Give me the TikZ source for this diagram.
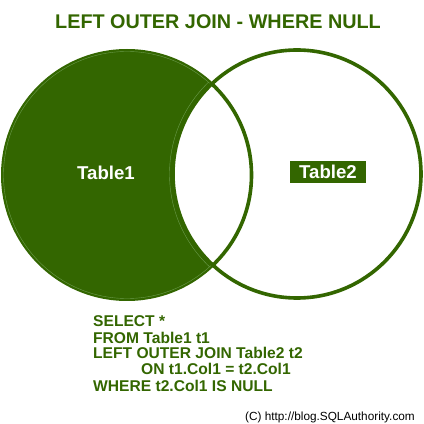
\documentclass[tikz,border=0pt]{standalone}
\usepackage{fontspec}
\setmainfont{Liberation Sans}

\definecolor{joingreen}{HTML}{336600}
\definecolor{rimgreen}{HTML}{6A9A4A}

\begin{document}
\begin{tikzpicture}[x=1pt, y=1pt,
    tablabel/.style={text=white, font=\bfseries\fontsize{18.6}{20}\selectfont,
        inner sep=0pt, text height=13.3pt, text depth=0pt},
    sqlline/.style={text=joingreen, font=\bfseries\fontsize{15.6}{16}\selectfont,
        inner sep=0pt, anchor=base west}]

        \useasboundingbox (0,0) rectangle (424,424);

        \coordinate (c1) at (127,249);
        \coordinate (c2) at (297,250);
        \pgfmathsetmacro{\R}{126}
        \pgfmathsetmacro{\S}{125}

        % 1. 左の円（Table1）の塗りつぶし
        \fill[joingreen] (c1) circle (\R);
        \draw[rimgreen, line width=0.4pt] (c1) circle (\R-2.5);
        \begin{scope}
            \clip (c1) circle (\R-2.5);
            \draw[rimgreen, line width=0.4pt] (c2) circle (\S+2.5);
        \end{scope}

        % 2. 右の円（Table2）は白抜き＋輪郭
        \fill[white] (c2) circle (\S);
        \draw[joingreen, line width=3.6pt] (c2) circle (\S-1);
        % 重なり部分の左円の輪郭
        \begin{scope}
            \clip (c2) circle (\S);
            \draw[joingreen, line width=3.6pt] (c1) circle (\R-1.5);
        \end{scope}

        % 3. ラベル
        \node[font=\bfseries\fontsize{19.8}{22}\selectfont, text=joingreen,
            inner sep=0pt, anchor=base] (title) at (218,395)
            {LEFT OUTER JOIN - WHERE NULL};
        \node[tablabel] (tab1) at (106,251) {Table1};
        \node[tablabel, fill=joingreen, minimum width=76pt, minimum height=22pt]
            (tab2) at (328,252) {Table2};

        % SQL文（1行ずつ）
        \foreach \txt [count=\i] in {SELECT *, FROM Table1 t1,
                LEFT OUTER JOIN Table2 t2, \hspace*{48pt}ON t1.Col1 = t2.Col1,
                WHERE t2.Col1 IS NULL}
            \node[sqlline] (sql\i) at (93, 113-16*\i) {\txt};

        \node[font=\fontsize{11.8}{13}\selectfont, inner sep=0pt, anchor=base east]
            (credit) at (415,3) {(C) http://blog.SQLAuthority.com};
    \end{tikzpicture}
\end{document}
